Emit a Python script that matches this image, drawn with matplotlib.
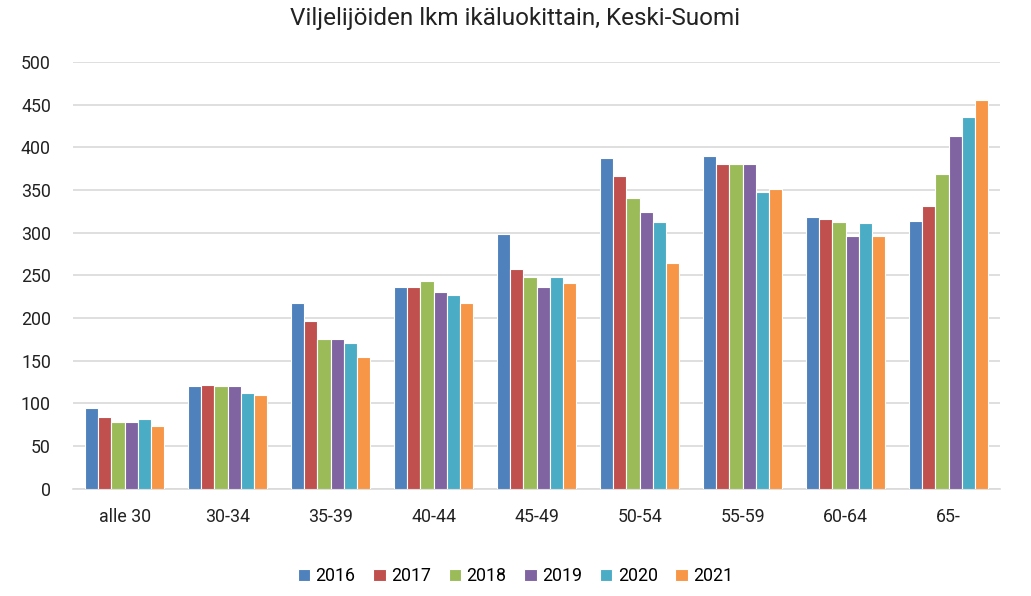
# Viljelijöiden lkm ikäluokittain, Keski-Suomi - grouped bar chart
import numpy as np
import matplotlib
matplotlib.use('Agg')
import matplotlib.pyplot as plt

plt.rcParams['font.family'] = ['Roboto', 'DejaVu Sans']

# Data
categories = ['alle 30', '30-34', '35-39', '40-44', '45-49', '50-54', '55-59', '60-64', '65-']
years = ['2016', '2017', '2018', '2019', '2020', '2021']
v2016 = [94, 120, 218, 236, 299, 388, 390, 318, 314]
v2017 = [84, 122, 197, 236, 257, 366, 380, 316, 331]
v2018 = [78, 120, 175, 243, 248, 341, 381, 313, 369]
v2019 = [78, 120, 176, 231, 236, 324, 381, 296, 413]
v2020 = [82, 112, 171, 227, 248, 313, 348, 311, 435]
v2021 = [73, 110, 154, 218, 241, 264, 351, 296, 455]
series = [v2016, v2017, v2018, v2019, v2020, v2021]
colors = ['#4F81BD', '#C0504D', '#9BBB59', '#8064A2', '#4BACC6', '#F79646']

fig = plt.figure(figsize=(10.31, 5.96), dpi=100)
ax = fig.add_axes([0.071, 0.180, 0.899, 0.716])

x = np.arange(len(categories))
width = 0.77 / len(series)
for i, (vals, col, yr) in enumerate(zip(series, colors, years)):
    offs = (i - (len(series) - 1) / 2) * width
    ax.bar(x + offs, vals, width, color=col, edgecolor='white', linewidth=0.8,
           label=yr, zorder=3)

# Format plot
ax.set_xlim(-0.5, len(categories) - 0.5)
ax.set_ylim(0, 500)
ax.set_yticks(range(0, 501, 50))
ax.set_xticks(x)
ax.set_xticklabels(categories)
ax.tick_params(axis='both', length=0, labelsize=12.8, colors='#222222')
ax.tick_params(axis='x', pad=14)
ax.tick_params(axis='y', pad=16)
ax.grid(axis='y', color='#d9d9d9', linewidth=1.2, zorder=0)
for s in ['top', 'right', 'left']:
    ax.spines[s].set_visible(False)
ax.spines['bottom'].set_color('#d9d9d9')
ax.spines['bottom'].set_linewidth(1.2)

fig.suptitle('Viljelijöiden lkm ikäluokittain, Keski-Suomi', fontsize=17.5,
             color='#222222', y=0.988)
fig.legend(loc='center', bbox_to_anchor=(0.5, 0.033), ncol=6, frameon=False,
           fontsize=12.8, handlelength=0.7, handleheight=0.7, handletextpad=0.3,
           columnspacing=1.0)

plt.savefig('out.png', dpi=100)
